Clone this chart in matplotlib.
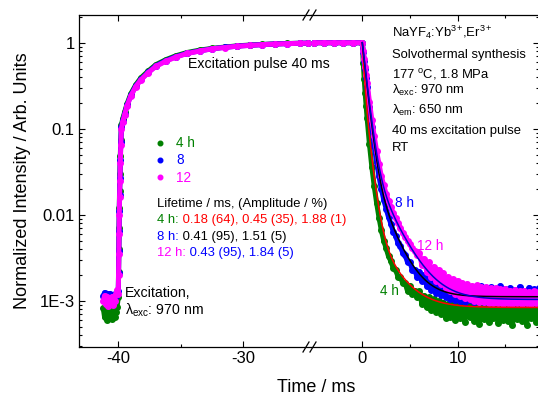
import numpy as np
import matplotlib
matplotlib.use("Agg")
import matplotlib.pyplot as plt
from matplotlib.lines import Line2D
from matplotlib.text import Annotation
from matplotlib.ticker import FixedLocator, FixedFormatter, LogLocator, NullFormatter

plt.rcParams['font.family'] = ['Liberation Sans', 'DejaVu Sans']
plt.rcParams['mathtext.fontset'] = 'custom'
plt.rcParams['mathtext.rm'] = 'Liberation Sans'
plt.rcParams['mathtext.it'] = 'Liberation Sans:italic'
plt.rcParams['mathtext.bf'] = 'Liberation Sans:bold'

# ---------------- measured data (normalised intensity) ----------------
# background before the excitation pulse (ms)
base_t = [-41.2, -41.1, -41.0, -40.9, -40.8, -40.7, -40.6, -40.5, -40.4, -40.3, -40.2, -40.1]
base_4h = [8.2e-4, 6.5e-4, 7.6e-4, 6.0e-4, 7.9e-4, 6.8e-4, 7.2e-4, 6.2e-4, 8.0e-4, 6.6e-4, 7.4e-4, 8.5e-4]
base_8h = [1.15e-3, 1.25e-3, 1.10e-3, 1.20e-3, 1.05e-3, 1.22e-3, 1.12e-3, 1.18e-3, 1.08e-3, 1.20e-3, 1.15e-3, 1.25e-3]
base_12h = [1.00e-3, 1.15e-3, 9.2e-4, 1.10e-3, 8.8e-4, 1.05e-3, 9.5e-4, 1.12e-3, 9.0e-4, 1.00e-3, 1.20e-3, 1.35e-3]

# rise during the 40 ms excitation pulse
rise_t = [-40.0, -39.98, -39.96, -39.94, -39.92, -39.9, -39.87, -39.84, -39.8, -39.75,
          -39.65, -39.5, -39.3, -39.0, -38.6, -38.2, -37.6, -37.0, -36.2, -35.4,
          -34.5, -33.5, -32.5, -31.5, -30.5, -29.5, -28.5, -27.5, -26.5, -25.5, -24.8]
rise_4h = [0.0011, 0.0022, 0.004, 0.007, 0.012, 0.019, 0.03, 0.048, 0.075, 0.11,
           0.13, 0.155, 0.195, 0.255, 0.325, 0.39, 0.47, 0.555, 0.635, 0.705,
           0.77, 0.82, 0.86, 0.89, 0.92, 0.94, 0.955, 0.97, 0.98, 0.985, 0.99]
rise_8h = [0.0013, 0.0021, 0.0038, 0.0065, 0.011, 0.017, 0.027, 0.044, 0.07, 0.105,
           0.123, 0.148, 0.188, 0.245, 0.315, 0.375, 0.455, 0.54, 0.62, 0.69,
           0.755, 0.805, 0.852, 0.884, 0.913, 0.934, 0.952, 0.967, 0.977, 0.985, 0.99]
rise_12h = [0.0012, 0.002, 0.0035, 0.006, 0.01, 0.016, 0.025, 0.04, 0.065, 0.1,
            0.12, 0.145, 0.185, 0.24, 0.31, 0.37, 0.45, 0.53, 0.61, 0.68,
            0.75, 0.80, 0.85, 0.88, 0.91, 0.93, 0.95, 0.965, 0.975, 0.985, 0.99]

# end of the pulse, before switching off at 0 ms
plateau_t = [-5.07, -4.0, -3.0, -2.0, -1.0]
plateau_4h = [1.0, 1.0, 1.0, 1.0, 1.0]
plateau_8h = [1.0, 1.0, 1.0, 1.0, 1.0]
plateau_12h = [1.0, 1.0, 1.0, 1.0, 1.0]

# decay after the pulse
decay_t = [0.0, 0.1, 0.2, 0.3, 0.4, 0.5, 0.75, 1.0, 1.25, 1.5, 1.75, 2.0, 2.25, 2.5, 2.75,
           3.0, 3.25, 3.5, 3.75, 4.0, 4.25, 4.5, 4.75, 5.0, 5.25, 5.5, 5.75,
           6.0, 6.25, 6.5, 6.75, 7.0, 7.25, 7.5, 7.75, 8.0, 8.25, 8.5, 8.75,
           9.0, 9.25, 9.5, 9.75, 10.0, 10.25, 10.5, 10.75, 11.0, 11.25, 11.5, 11.75,
           12.0, 12.25, 12.5, 12.75, 13.0, 13.25, 13.5, 13.75, 14.0, 14.25, 14.5, 14.75,
           15.0, 15.25, 15.5, 15.75, 16.0, 16.25, 16.5, 16.75, 17.0, 17.25, 17.5, 17.75,
           18.0, 18.25, 18.5]
decay_4h = [1.0, 0.58, 0.38, 0.26, 0.185, 0.135, 0.066, 0.036, 0.0215, 0.0138, 0.0093, 0.0066, 0.0050, 0.0041, 0.0033,
            0.0029, 0.0024, 0.0023, 0.0019, 0.0019, 0.0016, 0.0016, 0.0013, 0.0015, 0.0012, 0.0013, 0.0011,
            1.30e-3, 0.92e-3, 1.15e-3, 0.84e-3, 1.10e-3, 0.78e-3, 1.05e-3, 0.74e-3, 1.00e-3, 0.70e-3, 0.96e-3, 0.64e-3,
            0.92e-3, 0.66e-3, 0.98e-3, 0.60e-3, 0.90e-3, 0.64e-3, 0.95e-3, 0.57e-3, 0.88e-3, 0.65e-3, 0.97e-3, 0.59e-3,
            0.86e-3, 0.54e-3, 0.92e-3, 0.62e-3, 0.98e-3, 0.57e-3, 0.87e-3, 0.63e-3, 0.95e-3, 0.55e-3, 0.90e-3, 0.60e-3,
            0.98e-3, 0.58e-3, 0.85e-3, 0.52e-3, 0.92e-3, 0.62e-3, 0.96e-3, 0.58e-3, 0.90e-3, 0.53e-3, 0.94e-3, 0.64e-3,
            0.88e-3, 0.57e-3, 0.92e-3]
decay_8h = [1.0, 0.79, 0.62, 0.49, 0.39, 0.31, 0.178, 0.105, 0.064, 0.041, 0.028, 0.020, 0.0150, 0.0118, 0.0094,
            0.0079, 0.0064, 0.0057, 0.0047, 0.0043, 0.0036, 0.0034, 0.0028, 0.0028, 0.0023, 0.0023, 0.0019,
            0.0022, 0.0017, 0.0020, 0.0015, 0.0018, 0.00135, 0.00165, 0.00125, 0.00155, 0.00118, 0.00145, 0.00110,
            0.00140, 0.00105, 0.00138, 0.00102, 0.00142, 0.00100, 0.00135, 0.00098, 0.00145, 0.00104, 0.00138, 0.00097,
            0.00132, 0.00102, 0.00148, 0.00098, 0.00135, 0.00104, 0.00144, 0.00097, 0.00130, 0.00106, 0.00150, 0.00100,
            0.00136, 0.00097, 0.00142, 0.00104, 0.00134, 0.00099, 0.00146, 0.00102, 0.00132, 0.00097, 0.00143, 0.00104,
            0.00136, 0.00100, 0.00140]
decay_12h = [1.0, 0.81, 0.65, 0.525, 0.425, 0.345, 0.205, 0.128, 0.082, 0.055, 0.039, 0.028, 0.022, 0.0175, 0.0145,
             0.0122, 0.0105, 0.0092, 0.0080, 0.0071, 0.0062, 0.0056, 0.0050, 0.0046, 0.0041, 0.0038, 0.0034,
             0.0036, 0.0026, 0.0031, 0.0022, 0.0028, 0.0019, 0.0025, 0.0017, 0.0023, 0.00158, 0.0021, 0.00142,
             0.00190, 0.00132, 0.00178, 0.00122, 0.00172, 0.00115, 0.00162, 0.00108, 0.00158, 0.00105, 0.00150, 0.00100,
             0.00152, 0.00098, 0.00145, 0.00097, 0.00146, 0.00095, 0.00140, 0.00094, 0.00142, 0.00096, 0.00136, 0.00093,
             0.00138, 0.00095, 0.00132, 0.00092, 0.00134, 0.00094, 0.00130, 0.00092, 0.00132, 0.00094, 0.00128, 0.00093,
             0.00130, 0.00095, 0.00128]

# exponential fits: lifetimes (ms) and amplitudes (%)
tau_4h, amp_4h = [0.18, 0.45, 1.88], [64, 35, 1]
tau_8h, amp_8h = [0.41, 1.51], [95, 5]
tau_12h, amp_12h = [0.43, 1.84], [95, 5]
offset_4h, offset_8h, offset_12h = 8.4e-4, 1.12e-3, 1.04e-3

# axis ticks
left_major, left_minor, left_labels = [-40, -30], [-35], ['-40', '-30']
right_major, right_minor, right_labels = [0, 10], [5, 15], ['0', '10']
y_major, y_labels = [1e-3, 1e-2, 1e-1, 1], ['1E-3', '0.01', '0.1', '1']

GREEN, BLUE, MAGENTA = '#008000', '#0000FF', '#FF00FF'

# ---------------- figure ----------------
W, H = 538, 396
fig = plt.figure(figsize=(W / 100, H / 100), dpi=100)


def fx(x):
    return x / W


def fy(y):
    return 1 - y / H


x0, x_break, x1 = 79, 311, 539
y_top, y_bot = 15, 347
axL = fig.add_axes([fx(x0), fy(y_bot), (x_break - x0) / W, (y_bot - y_top) / H])
axR = fig.add_axes([fx(x_break), fy(y_bot), (x1 - x_break) / W, (y_bot - y_top) / H], sharey=axL)

ylim = (2.92e-4, 2.10)
axL.set_yscale('log')
axL.set_ylim(*ylim)
axL.set_xlim(-43.144, -24.584)
axR.set_xlim(-5.383, 18.54)

style = dict(lw=3.6, marker='o', ms=4.0, solid_capstyle='round', solid_joinstyle='round')
series = [
    (GREEN, base_4h, rise_4h, plateau_4h, decay_4h),
    (BLUE, base_8h, rise_8h, plateau_8h, decay_8h),
    (MAGENTA, base_12h, rise_12h, plateau_12h, decay_12h),
]
for col, base, rise, plat, dec in series:
    axL.plot(base_t + rise_t, base + rise, color=col, mec=col, mfc=col, **style)
    axR.plot(plateau_t + decay_t, plat + dec, color=col, mec=col, mfc=col, **style)


def multi_exp(t, taus, amps, offset):
    return sum(a / 100.0 * np.exp(-t / tau) for tau, a in zip(taus, amps)) + offset


tf = np.linspace(0, 18.6, 800)
axR.plot(tf, multi_exp(tf, tau_4h, amp_4h, offset_4h), color='#FF0000', lw=1.1)
axR.plot(tf, multi_exp(tf, tau_8h, amp_8h, offset_8h), color='black', lw=1.1)
axR.plot(tf, multi_exp(tf, tau_12h, amp_12h, offset_12h), color='#0000CC', lw=1.1)

# spines and ticks
for ax in (axL, axR):
    for sp in ax.spines.values():
        sp.set_linewidth(0.9)
    ax.tick_params(which='both', direction='in', top=True, bottom=True, width=0.8,
                   labelsize=12, pad=3)
    ax.tick_params(which='major', length=4.5)
    ax.tick_params(which='minor', length=2.3)

axL.spines['right'].set_visible(False)
axR.spines['left'].set_visible(False)
axL.tick_params(axis='y', which='both', left=True, right=False)
axR.tick_params(axis='y', which='both', left=False, right=True, labelleft=False, labelright=False)

axL.xaxis.set_major_locator(FixedLocator(left_major))
axL.xaxis.set_major_formatter(FixedFormatter(left_labels))
axL.xaxis.set_minor_locator(FixedLocator(left_minor))
axR.xaxis.set_major_locator(FixedLocator(right_major))
axR.xaxis.set_major_formatter(FixedFormatter(right_labels))
axR.xaxis.set_minor_locator(FixedLocator(right_minor))

axL.yaxis.set_major_locator(FixedLocator(y_major))
axL.yaxis.set_major_formatter(FixedFormatter(y_labels))
axL.yaxis.set_minor_locator(LogLocator(base=10, subs=np.arange(2, 10), numticks=20))
axL.yaxis.set_minor_formatter(NullFormatter())
axL.set_ylim(*ylim)

axL.set_ylabel('Normalized Intensity / Arb. Units', fontsize=13, labelpad=6)
fig.text(fx(316), fy(388), 'Time / ms', fontsize=13, ha='center', va='center')

# axis break marks
for yb in (y_top, y_bot):
    for xs in (303, 310):
        fig.add_artist(Line2D([fx(xs), fx(xs + 6)], [fy(yb + 5), fy(yb - 5)],
                              transform=fig.transFigure, color='black', lw=0.9))

# annotations
fs = 9.4
fig.text(fx(188), fy(68.3), 'Excitation pulse 40 ms', fontsize=10.2, va='baseline')
fig.text(fx(125), fy(297.3), 'Excitation,', fontsize=10.2, va='baseline')
fig.text(fx(125), fy(315), 'λ$_{\\rm exc}$: 970 nm', fontsize=10.2, va='baseline')

info = ['NaYF$_4$:Yb$^{3+}\\!$,Er$^{3+}$', 'Solvothermal synthesis', '177 $^{\\rm o}$C, 1.8 MPa',
        'λ$_{\\rm exc}$: 970 nm', 'λ$_{\\rm em}$: 650 nm', '40 ms excitation pulse', 'RT']
info_base = [37.3, 58.3, 78.3, 94, 114, 134.3, 150.7]
for s, yb in zip(info, info_base):
    fig.text(fx(391.5), fy(yb), s, fontsize=fs, va='baseline')

# legend
for lab, col, ym in zip(['4 h', '8', '12'], [GREEN, BLUE, MAGENTA], [142.5, 160, 177.3]):
    fig.add_artist(Line2D([fx(160)], [fy(ym)], transform=fig.transFigure, marker='o',
                          ms=3.3, color=col, ls='none'))
    fig.text(fx(176), fy(ym + 4.3), lab, fontsize=9.8, color=col, va='baseline')

# lifetimes
fig.text(fx(157), fy(207.3), 'Lifetime / ms, (Amplitude / %)', fontsize=fs, va='baseline')
rows = [('4 h:', GREEN, tau_4h, amp_4h, '#FF0000', 223.3),
        ('8 h:', BLUE, tau_8h, amp_8h, 'black', 239.8),
        ('12 h:', MAGENTA, tau_12h, amp_12h, BLUE, 256.3)]
for head, hcol, taus, amps, vcol, yb in rows:
    t1 = fig.text(fx(157), fy(yb), head, fontsize=fs, color=hcol, va='baseline')
    vals = ' ' + ', '.join(f'{t:g} ({a})' for t, a in zip(taus, amps))
    fig.add_artist(Annotation(vals, xy=(1, 0), xycoords=t1, fontsize=fs, color=vcol,
                              ha='left', va='bottom'))

# curve labels
fig.text(fx(395), fy(206.7), '8 h', fontsize=9.8, color=BLUE, va='baseline')
fig.text(fx(417), fy(250), '12 h', fontsize=9.8, color=MAGENTA, va='baseline')
fig.text(fx(380), fy(295), '4 h', fontsize=9.8, color=GREEN, va='baseline')

fig.savefig('out.png', dpi=100)
